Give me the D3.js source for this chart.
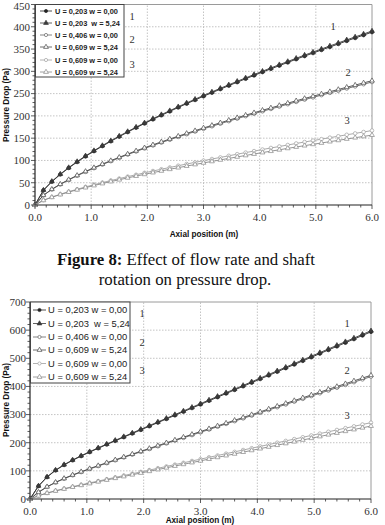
<!DOCTYPE html>
<html>
<head>
<meta charset="utf-8">
<script src="https://cdn.jsdelivr.net/npm/d3@7"></script>
<style>
  html, body { margin: 0; padding: 0; background: #fff; }
  svg { display: block; }
  text { white-space: pre; }
</style>
</head>
<body>
<svg id="fig"></svg>
<script>
// Axial position samples (m)
const axialPos = [0, 0.15, 0.3, 0.45, 0.6, 0.75, 0.9, 1.05, 1.2, 1.35, 1.5, 1.65, 1.8, 1.95, 2.1, 2.25, 2.4, 2.55, 2.7, 2.85, 3.0,
  3.15, 3.3, 3.45, 3.6, 3.75, 3.9, 4.05, 4.2, 4.35, 4.5, 4.65, 4.8, 4.95, 5.1, 5.25, 5.4, 5.55, 5.7, 5.85, 6.0];

const seriesLabels = ["U = 0,203 w = 0,00", "U = 0,203  w = 5,24", "U = 0,406 w = 0,00",
  "U = 0,609 w = 5,24", "U = 0,609 w = 0,00", "U = 0,609 w = 5,24"];

// Upper chart, pressure drop (Pa)
const top1 = [0, 32.9, 52.3, 68.5, 83.1, 96.5, 109.1, 120.9, 132.2, 143.0, 153.4, 163.6, 173.4, 182.9, 192.2, 201.3, 210.1, 218.9, 227.4, 235.7, 244.1,
  252.0, 260.1, 267.8, 275.7, 283.3, 290.8, 298.3, 305.6, 312.8, 320.0, 327.2, 334.2, 341.0, 347.9, 354.7, 361.4, 368.3, 374.8, 381.3, 388.0];
const top2 = [0, 33.4, 53.0, 69.3, 84.0, 97.5, 110.2, 122.0, 133.4, 144.2, 154.7, 164.9, 174.8, 184.3, 193.7, 202.8, 211.7, 220.5, 229.1, 237.4, 245.9,
  253.8, 261.9, 269.7, 277.6, 285.2, 292.8, 300.3, 307.6, 314.9, 322.1, 329.3, 336.4, 343.2, 350.1, 357.0, 363.7, 370.6, 377.2, 383.7, 390.5];
const top3 = [0, 21.6, 34.8, 46.1, 56.2, 65.6, 74.4, 82.7, 90.7, 98.4, 105.8, 113.1, 120.1, 126.9, 133.6, 140.1, 146.4, 152.8, 158.9, 164.9, 171.0,
  176.7, 182.5, 188.2, 193.9, 199.4, 204.9, 210.3, 215.6, 220.9, 226.2, 231.4, 236.6, 241.5, 246.6, 251.6, 256.5, 261.5, 266.2, 271.1, 276.0];
const top4 = [0, 22.0, 35.4, 46.8, 57.0, 66.5, 75.4, 83.8, 91.9, 99.6, 107.1, 114.4, 121.5, 128.4, 135.1, 141.7, 148.1, 154.5, 160.7, 166.8, 172.9,
  178.7, 184.5, 190.3, 196.0, 201.6, 207.1, 212.6, 217.9, 223.3, 228.6, 233.9, 239.1, 244.1, 249.2, 254.3, 259.3, 264.3, 269.1, 274.0, 279.0];
const top5 = [0, 10.7, 17.9, 24.2, 30.0, 35.3, 40.6, 45.5, 50.2, 54.9, 59.3, 63.7, 67.9, 72.2, 76.3, 80.3, 84.2, 88.2, 92.0, 95.7, 99.6,
  103.2, 106.8, 110.4, 114.1, 117.6, 121.0, 124.5, 128.0, 131.3, 134.7, 138.1, 141.4, 144.6, 147.8, 151.2, 154.3, 157.6, 160.7, 163.9, 167.1];
const top6 = [0, 10.5, 17.3, 23.4, 29.0, 34.1, 39.0, 43.7, 48.2, 52.6, 56.7, 60.9, 64.9, 68.8, 72.7, 76.5, 80.2, 83.8, 87.4, 90.9, 94.5,
  97.8, 101.2, 104.6, 107.9, 111.2, 114.4, 117.7, 120.8, 123.9, 127.1, 130.2, 133.2, 136.2, 139.2, 142.2, 145.1, 148.2, 151.0, 153.9, 156.9];

// Lower chart, pressure drop (Pa)
const bot1 = [0, 45.9, 77.8, 101.7, 120.9, 137.5, 152.5, 166.6, 180.2, 193.5, 206.7, 219.7, 232.7, 245.6, 258.6, 271.5, 284.4, 297.3, 310.2, 323.1, 336.0,
  348.9, 361.8, 374.7, 387.6, 400.5, 413.4, 426.3, 439.2, 452.1, 465.0, 477.9, 490.8, 503.7, 516.6, 529.5, 542.4, 555.3, 568.2, 581.1, 594.0];
const bot2 = [0, 46.6, 78.7, 102.8, 122.1, 138.8, 153.9, 168.1, 181.8, 195.2, 208.5, 221.6, 234.7, 247.7, 260.8, 273.8, 286.8, 299.8, 312.8, 325.8, 338.8,
  351.8, 364.7, 377.7, 390.6, 403.6, 416.5, 429.5, 442.4, 455.4, 468.3, 481.3, 494.2, 507.2, 520.1, 533.1, 546.0, 559.0, 571.9, 584.9, 597.8];
const bot3 = [0, 23.9, 42.8, 58.5, 72.0, 84.3, 95.7, 106.6, 117.1, 127.4, 137.5, 147.6, 157.6, 167.6, 177.6, 187.5, 197.4, 207.3, 217.2, 227.1, 237.0,
  246.9, 256.8, 266.7, 276.6, 286.5, 296.4, 306.3, 316.2, 326.1, 336.0, 345.9, 355.8, 365.7, 375.6, 385.5, 395.4, 405.3, 415.2, 425.1, 435.0];
const bot4 = [0, 24.4, 43.5, 59.4, 73.1, 85.5, 97.0, 108.0, 118.6, 129.0, 139.2, 149.4, 159.5, 169.6, 179.7, 189.7, 199.7, 209.7, 219.7, 229.7, 239.7,
  249.7, 259.7, 269.7, 279.7, 289.7, 299.7, 309.7, 319.7, 329.7, 339.7, 349.7, 359.7, 369.7, 379.7, 389.7, 399.7, 409.7, 419.7, 429.7, 439.7];
const bot5 = [0, 11.9, 21.3, 29.5, 36.8, 43.9, 50.5, 57.2, 63.7, 70.3, 76.8, 83.3, 89.8, 96.3, 102.7, 109.2, 115.7, 122.2, 128.6, 135.2, 141.6,
  148.1, 154.6, 161.1, 167.5, 174.1, 180.5, 187.0, 193.4, 200.0, 206.4, 212.9, 219.4, 225.9, 232.3, 238.9, 245.3, 251.8, 258.2, 264.8, 271.2];
const bot6 = [0, 11.6, 20.7, 28.6, 35.6, 42.4, 48.7, 55.1, 61.3, 67.6, 73.8, 79.9, 86.2, 92.4, 98.5, 104.7, 110.9, 117.1, 123.2, 129.5, 135.6,
  141.8, 148.0, 154.2, 160.3, 166.6, 172.7, 178.9, 185.0, 191.3, 197.4, 203.6, 209.8, 215.9, 222.1, 228.4, 234.5, 240.7, 246.8, 253.1, 259.2];

const xTicks = [0, 1, 2, 3, 4, 5, 6];
const topYTicks = [0, 50, 100, 150, 200, 250, 300, 350, 400, 450];
const botYTicks = [0, 100, 200, 300, 400, 500, 600, 700];
const groupNames = ["1", "2", "3"];

// series styles: colour, marker, filled
const STYLES = [
  { c: "#222", m: "circle", fill: true },
  { c: "#3a3a3a", m: "triangle", fill: true },
  { c: "#666", m: "circle", fill: false },
  { c: "#4a4a4a", m: "triangle", fill: false },
  { c: "#a0a0a0", m: "circle", fill: false },
  { c: "#888", m: "triangle", fill: false }
];

const SERIF = "'Liberation Serif', 'Times New Roman', serif";
const SANS = "'Liberation Sans', Arial, sans-serif";

const svg = d3.select("#fig").attr("width", 385).attr("height", 525);

drawChart({
  x0: 35, x1: 372, y0: 205, y1: 4.5, yMax: 450, yTicks: topYTicks, yMinor: 10,
  series: [top1, top2, top3, top4, top5, top6],
  yLabelRight: 30, xLabelY: 221, yTitleX: 6, yTitleY: 105, xTitleY: 237, xTitleX: 204,
  legend: { x: 35.5, y: 4.5, w: 88.5, h: 72.5, rows: [11, 23, 35, 47, 60, 72], lx0: 40, lx1: 52, tx: 55, size: 7.4, bold: true },
  leftNums: [[132, 20], [132, 43], [132, 68]],
  rightNums: [[333, 30], [348, 76], [347, 124]]
});

drawChart({
  x0: 30, x1: 371, y0: 499, y1: 302, yMax: 700, yTicks: botYTicks, yMinor: 20,
  series: [bot1, bot2, bot3, bot4, bot5, bot6],
  yLabelRight: 26, xLabelY: 515, yTitleX: 6, yTitleY: 400, xTitleY: 523, xTitleX: 200,
  legend: { x: 30.5, y: 302, w: 99.5, h: 81, rows: [310, 323.5, 337, 350, 363.5, 377], lx0: 33, lx1: 46, tx: 48, size: 9.4, bold: false },
  leftNums: [[142, 317], [142, 346], [142, 374]],
  rightNums: [[347, 327], [347, 374], [347, 419]]
});

// Caption between the two charts
const cap = svg.append("text")
  .attr("x", 186).attr("y", 265)
  .attr("text-anchor", "middle")
  .attr("font-family", SERIF).attr("font-size", 16.8).attr("fill", "#111");
cap.append("tspan").attr("font-weight", 700).text("Figure 8:");
cap.append("tspan").text(" Effect of flow rate and shaft");
svg.append("text")
  .attr("x", 185).attr("y", 284.5)
  .attr("text-anchor", "middle")
  .attr("font-family", SERIF).attr("font-size", 16.8).attr("fill", "#111")
  .text("rotation on pressure drop.");

function drawChart(cfg) {
  const x = d3.scaleLinear().domain([0, 6]).range([cfg.x0, cfg.x1]);
  const y = d3.scaleLinear().domain([0, cfg.yMax]).range([cfg.y0, cfg.y1]);
  const g = svg.append("g");

  // dotted grid
  xTicks.slice(1, -1).forEach(t => {
    g.append("line")
      .attr("x1", x(t)).attr("x2", x(t)).attr("y1", y(0)).attr("y2", y(cfg.yMax))
      .attr("stroke", "#b5b5b5").attr("stroke-width", 0.8).attr("stroke-dasharray", "1.5,1.5");
  });
  cfg.yTicks.slice(1, -1).forEach(t => {
    g.append("line")
      .attr("x1", x(0)).attr("x2", x(6)).attr("y1", y(t)).attr("y2", y(t))
      .attr("stroke", "#b5b5b5").attr("stroke-width", 0.8).attr("stroke-dasharray", "1.5,1.5");
  });

  // top & right frame
  g.append("path")
    .attr("d", `M${x(0)},${y(cfg.yMax)} H${x(6)} V${y(0)}`)
    .attr("fill", "none").attr("stroke", "#9a9a9a").attr("stroke-width", 1);

  // curves
  const line = d3.line().x((d, i) => x(axialPos[i])).y(d => y(d));
  const tri = d3.symbol().type(d3.symbolTriangle).size(10);
  cfg.series.forEach((vals, si) => {
    const st = STYLES[si];
    g.append("path").datum(vals)
      .attr("d", line)
      .attr("fill", "none").attr("stroke", st.c).attr("stroke-width", 0.9);
    vals.forEach((v, i) => {
      if (st.m === "circle") {
        g.append("circle").attr("cx", x(axialPos[i])).attr("cy", y(v)).attr("r", 1.8)
          .attr("fill", st.fill ? st.c : "#fff").attr("stroke", st.c).attr("stroke-width", 0.7);
      } else {
        g.append("path").attr("d", tri)
          .attr("transform", `translate(${x(axialPos[i])},${y(v)})`)
          .attr("fill", st.fill ? st.c : "#fff").attr("stroke", st.c).attr("stroke-width", 0.7);
      }
    });
  });

  // axes
  g.append("line").attr("x1", x(0)).attr("x2", x(0)).attr("y1", y(0)).attr("y2", y(cfg.yMax))
    .attr("stroke", "#222").attr("stroke-width", 1.2);
  g.append("line").attr("x1", x(0)).attr("x2", x(6)).attr("y1", y(0)).attr("y2", y(0))
    .attr("stroke", "#222").attr("stroke-width", 1.2);

  // x ticks, major and minor
  d3.range(0, 30.5, 1).forEach(k => {
    const major = k % 5 === 0;
    g.append("line")
      .attr("x1", x(k / 5)).attr("x2", x(k / 5))
      .attr("y1", y(0)).attr("y2", y(0) + (major ? 4 : 2.5))
      .attr("stroke", "#333").attr("stroke-width", 0.8);
  });
  xTicks.forEach(t => {
    g.append("text")
      .attr("x", x(t)).attr("y", cfg.xLabelY)
      .attr("text-anchor", "middle")
      .attr("font-family", SERIF).attr("font-size", 11).attr("fill", "#333")
      .text(t.toFixed(1));
  });

  // y ticks, major and minor
  const step = cfg.yTicks[1];
  for (let v = 0; v <= cfg.yMax + 0.01; v += cfg.yMinor) {
    const major = Math.abs(v % step) < 0.01;
    g.append("line")
      .attr("x1", x(0)).attr("x2", x(0) - (major ? 4 : 2.5))
      .attr("y1", y(v)).attr("y2", y(v))
      .attr("stroke", "#333").attr("stroke-width", 0.8);
  }
  cfg.yTicks.forEach(t => {
    g.append("text")
      .attr("x", cfg.yLabelRight).attr("y", Math.max(y(t), 6)).attr("dy", "0.35em")
      .attr("text-anchor", "end")
      .attr("font-family", SERIF).attr("font-size", 11).attr("fill", "#333")
      .text(t);
  });

  // axis titles
  g.append("text")
    .attr("transform", `translate(${cfg.yTitleX},${cfg.yTitleY}) rotate(-90)`)
    .attr("text-anchor", "middle").attr("dy", "0.35em")
    .attr("font-family", SANS).attr("font-weight", 700).attr("font-size", 8.2).attr("fill", "#111")
    .text("Pressure Drop (Pa)");
  g.append("text")
    .attr("x", cfg.xTitleX).attr("y", cfg.xTitleY)
    .attr("text-anchor", "middle")
    .attr("font-family", SANS).attr("font-weight", 700).attr("font-size", 8.2).attr("fill", "#111")
    .text("Axial position (m)");

  // legend
  const L = cfg.legend;
  g.append("rect").attr("x", L.x).attr("y", L.y).attr("width", L.w).attr("height", L.h)
    .attr("fill", "#fff").attr("stroke", "#444").attr("stroke-width", 1);
  seriesLabels.forEach((lab, i) => {
    const st = STYLES[i];
    const ry = L.rows[i];
    g.append("line").attr("x1", L.lx0).attr("x2", L.lx1).attr("y1", ry).attr("y2", ry)
      .attr("stroke", st.c).attr("stroke-width", 0.8);
    const mx = (L.lx0 + L.lx1) / 2;
    if (st.m === "circle") {
      g.append("circle").attr("cx", mx).attr("cy", ry).attr("r", 1.6)
        .attr("fill", st.fill ? st.c : "#fff").attr("stroke", st.c).attr("stroke-width", 0.7);
    } else {
      g.append("path").attr("d", tri).attr("transform", `translate(${mx},${ry})`)
        .attr("fill", st.fill ? st.c : "#fff").attr("stroke", st.c).attr("stroke-width", 0.7);
    }
    g.append("text")
      .attr("x", L.tx).attr("y", ry).attr("dy", "0.35em")
      .attr("font-family", SANS).attr("font-weight", L.bold ? 700 : 400)
      .attr("font-size", L.size).attr("fill", "#222")
      .text(lab);
  });

  // group numbers
  cfg.leftNums.concat(cfg.rightNums).forEach((p, i) => {
    g.append("text")
      .attr("x", p[0]).attr("y", p[1])
      .attr("text-anchor", "middle")
      .attr("font-family", SERIF).attr("font-size", 10.5).attr("fill", "#333")
      .text(groupNames[i % 3]);
  });
}
</script>
</body>
</html>
